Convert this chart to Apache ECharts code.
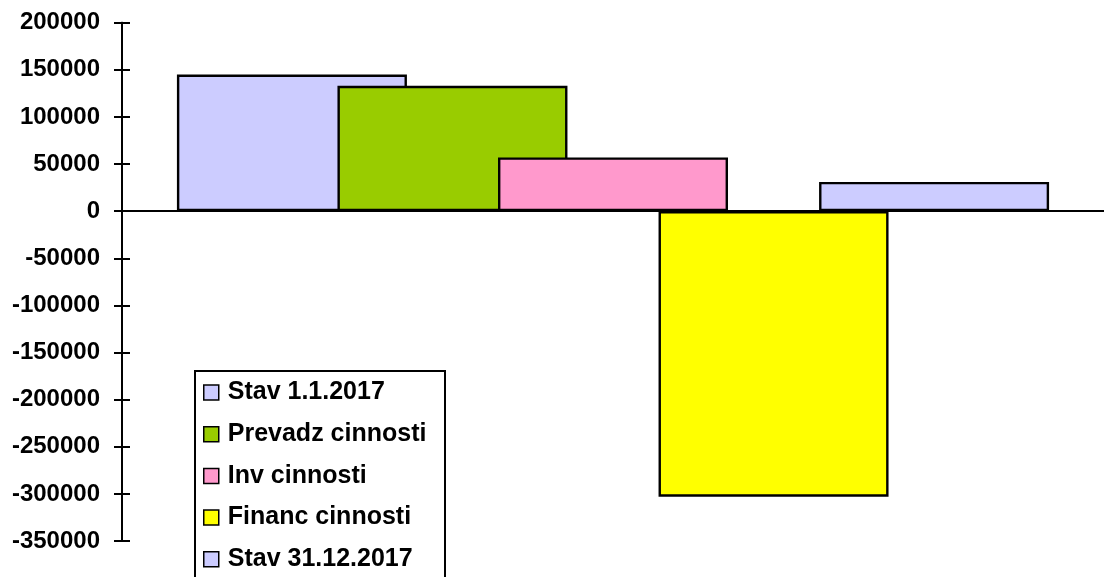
<!DOCTYPE html>
<html>
<head>
<meta charset="utf-8">
<script src="https://cdn.jsdelivr.net/npm/echarts@6/dist/echarts.min.js"></script>
<style>
  html, body { margin: 0; padding: 0; background: #fff; }
  #chart { width: 1104px; height: 577px; }
</style>
</head>
<body>
<div id="chart"></div>
<script>
// data
const categories = ['2017']
const seriesNames = ['Stav 1.1.2017', 'Prevadz cinnosti', 'Inv cinnosti', 'Financ cinnosti', 'Stav 31.12.2017']
const seriesValues = [145000, 133000, 57000, -303000, 31000]
const yMin = -350000
const yMax = 200000
const yStep = 50000

// styles
const barColors = ['#CCCCFF', '#99CC00', '#FF99CC', '#FFFF00', '#CCCCFF']
const font = 'Liberation Sans, Arial, sans-serif'

const chart = echarts.init(document.getElementById('chart'), null, { renderer: 'canvas' })

const series = seriesNames.map((name, i) => {
  return {
    name: name,
    type: 'bar',
    data: [seriesValues[i]],
    barWidth: 230,
    barGap: '-30.2%',
    itemStyle: {
      color: barColors[i],
      borderColor: '#000',
      borderWidth: 2.4
    },
    emphasis: { disabled: true }
  }
})

const yCommon = {
  type: 'value',
  min: yMin,
  max: yMax,
  interval: yStep,
  splitLine: { show: false }
}

chart.setOption({
  animation: false,
  color: barColors,
  grid: {
    left: 122,
    right: -6,
    top: 22.7,
    bottom: 36
  },
  xAxis: {
    type: 'category',
    data: categories,
    axisLine: { onZero: true, lineStyle: { color: '#000', width: 2 } },
    axisTick: { show: false },
    axisLabel: { show: false }
  },
  yAxis: [
    Object.assign({}, yCommon, {
      position: 'left',
      axisLine: { show: true, lineStyle: { color: '#000', width: 2 } },
      axisTick: { show: true, length: 8, lineStyle: { color: '#000', width: 2 } },
      axisLabel: {
        margin: 22,
        color: '#000',
        fontFamily: font,
        fontWeight: 'bold',
        fontSize: 24,
        formatter: v => String(v)
      }
    }),
    // inner half of the crossing ticks
    Object.assign({}, yCommon, {
      position: 'left',
      offset: 0,
      axisLine: { show: true, lineStyle: { color: '#000', width: 2 } },
      axisTick: { show: true, inside: true, length: 8, lineStyle: { color: '#000', width: 2 } },
      axisLabel: { show: false }
    })
  ],
  legend: {
    data: seriesNames,
    orient: 'vertical',
    left: 195,
    top: 371,
    height: 300,
    padding: [9, 8, 8, 8],
    itemGap: 16.7,
    itemWidth: 15,
    itemHeight: 15,
    icon: 'rect',
    selectedMode: false,
    itemStyle: { borderColor: '#000', borderWidth: 1.5 },
    textStyle: {
      color: '#000',
      fontFamily: font,
      fontWeight: 'bold',
      fontSize: 25,
      lineHeight: 24,
      padding: [0, 0, 0, 4]
    },
    z: 5
  },
  graphic: [
    {
      type: 'rect',
      z: 3,
      shape: { x: 195, y: 371, width: 250, height: 230 },
      style: { fill: '#fff', stroke: '#000', lineWidth: 2 }
    }
  ],
  series: series
})
</script>
</body>
</html>
